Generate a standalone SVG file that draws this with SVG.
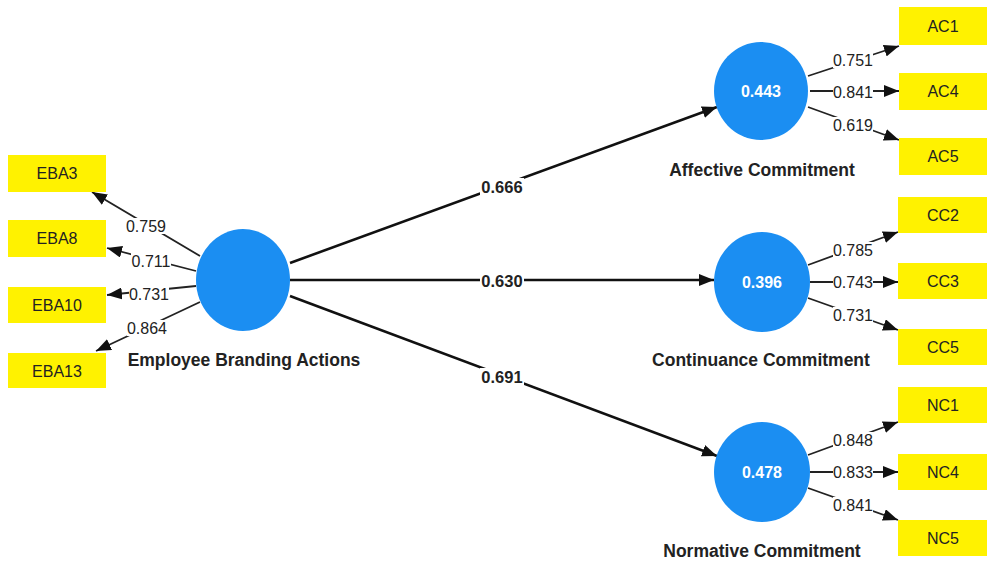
<svg xmlns="http://www.w3.org/2000/svg" width="989" height="562" viewBox="0 0 989 562">
<defs>
<marker id="ah" viewBox="0 0 15 12" refX="15" refY="6" markerWidth="15" markerHeight="12" markerUnits="userSpaceOnUse" orient="auto">
<path d="M0,0 L15,6 L0,12 Z" fill="#111"/>
</marker>
<style>
.box{fill:#FFF200;}
.bt{font-family:"Liberation Sans",Arial,sans-serif;font-size:16px;fill:#222;text-anchor:middle;}
.lv{fill:#1B8EF2;}
.lvt{font-family:"Liberation Sans",Arial,sans-serif;font-size:16px;font-weight:bold;fill:#fff;text-anchor:middle;}
.name{font-family:"Liberation Sans",Arial,sans-serif;font-size:17.5px;font-weight:bold;fill:#222;text-anchor:middle;}
.ld{stroke:#222;stroke-width:1.8;fill:none;marker-end:url(#ah);}
.st{stroke:#111;stroke-width:2.6;fill:none;marker-end:url(#ah);}
.lt{font-family:"Liberation Sans",Arial,sans-serif;font-size:16px;fill:#222;text-anchor:middle;}
.slt{font-family:"Liberation Sans",Arial,sans-serif;font-size:16.5px;font-weight:bold;fill:#222;text-anchor:middle;}
.bg{fill:#fff;}
</style>
</defs>
<rect width="989" height="562" fill="#fff"/>

<g id="connectors">
<line class="st" x1="290" y1="263" x2="717" y2="107"/>
<line class="st" x1="290" y1="280" x2="714" y2="280"/>
<line class="st" x1="290" y1="296" x2="717" y2="456"/>
<line class="ld" x1="200" y1="256" x2="92" y2="192"/>
<line class="ld" x1="196" y1="271" x2="107" y2="248"/>
<line class="ld" x1="196" y1="286" x2="107" y2="295"/>
<line class="ld" x1="200" y1="302" x2="96" y2="351"/>
<line class="ld" x1="808" y1="76" x2="899" y2="46"/>
<line class="ld" x1="810" y1="91" x2="899" y2="91"/>
<line class="ld" x1="808" y1="107" x2="899" y2="140"/>
<line class="ld" x1="808" y1="265" x2="898" y2="232"/>
<line class="ld" x1="810" y1="282" x2="898" y2="282"/>
<line class="ld" x1="808" y1="298" x2="898" y2="330"/>
<line class="ld" x1="808" y1="455" x2="898" y2="422"/>
<line class="ld" x1="810" y1="472" x2="898" y2="472"/>
<line class="ld" x1="808" y1="488" x2="898" y2="520"/>
<g id="connector-labels">
<rect class="bg" x="480" y="178" width="44" height="17"/><text class="slt" x="502" y="193">0.666</text>
<rect class="bg" x="480" y="272" width="44" height="17"/><text class="slt" x="502" y="287">0.630</text>
<rect class="bg" x="480" y="368" width="44" height="17"/><text class="slt" x="502" y="383">0.691</text>
<rect class="bg" x="126" y="218" width="40" height="16"/><text class="lt" x="146" y="232">0.759</text>
<rect class="bg" x="131" y="253" width="40" height="16"/><text class="lt" x="151" y="267">0.711</text>
<rect class="bg" x="129" y="286" width="40" height="16"/><text class="lt" x="149" y="300">0.731</text>
<rect class="bg" x="127" y="320" width="40" height="16"/><text class="lt" x="147" y="334">0.864</text>
<rect class="bg" x="833" y="52" width="40" height="16"/><text class="lt" x="853" y="66">0.751</text>
<rect class="bg" x="833" y="84" width="40" height="16"/><text class="lt" x="853" y="98">0.841</text>
<rect class="bg" x="833" y="117" width="40" height="16"/><text class="lt" x="853" y="131">0.619</text>
<rect class="bg" x="833" y="242" width="40" height="16"/><text class="lt" x="853" y="256">0.785</text>
<rect class="bg" x="833" y="274" width="40" height="16"/><text class="lt" x="853" y="288">0.743</text>
<rect class="bg" x="833" y="307" width="40" height="16"/><text class="lt" x="853" y="321">0.731</text>
<rect class="bg" x="833" y="432" width="40" height="16"/><text class="lt" x="853" y="446">0.848</text>
<rect class="bg" x="833" y="464" width="40" height="16"/><text class="lt" x="853" y="478">0.833</text>
<rect class="bg" x="833" y="497" width="40" height="16"/><text class="lt" x="853" y="511">0.841</text>
</g>
</g>

<g id="EBA">
<ellipse class="lv" cx="243" cy="280" rx="47" ry="51"/>
<text class="name" x="244" y="366">Employee Branding Actions</text>
</g>
<g id="AC">
<ellipse class="lv" cx="761" cy="91" rx="47" ry="49"/>
<text class="lvt" x="761" y="97">0.443</text>
<text class="name" x="762" y="176">Affective Commitment</text>
</g>
<g id="CC">
<ellipse class="lv" cx="762" cy="282" rx="48" ry="50"/>
<text class="lvt" x="762" y="288">0.396</text>
<text class="name" x="761" y="366">Continuance Commitment</text>
</g>
<g id="NC">
<ellipse class="lv" cx="762" cy="472" rx="48" ry="50"/>
<text class="lvt" x="762" y="478">0.478</text>
<text class="name" x="762" y="557">Normative Commitment</text>
</g>

<g id="EBA3"><rect class="box" x="8" y="155" width="98" height="37"/><text class="bt" x="57" y="179">EBA3</text></g>
<g id="EBA8"><rect class="box" x="8" y="220" width="98" height="37"/><text class="bt" x="57" y="244">EBA8</text></g>
<g id="EBA10"><rect class="box" x="8" y="287" width="98" height="36"/><text class="bt" x="57" y="311">EBA10</text></g>
<g id="EBA13"><rect class="box" x="8" y="353" width="98" height="35"/><text class="bt" x="57" y="377">EBA13</text></g>

<g id="AC1"><rect class="box" x="899" y="7" width="88" height="38"/><text class="bt" x="943" y="32">AC1</text></g>
<g id="AC4"><rect class="box" x="899" y="73" width="88" height="37"/><text class="bt" x="943" y="97">AC4</text></g>
<g id="AC5"><rect class="box" x="899" y="138" width="88" height="37"/><text class="bt" x="943" y="162">AC5</text></g>
<g id="CC2"><rect class="box" x="898" y="197" width="89" height="36"/><text class="bt" x="943" y="221">CC2</text></g>
<g id="CC3"><rect class="box" x="898" y="263" width="89" height="36"/><text class="bt" x="943" y="287">CC3</text></g>
<g id="CC5"><rect class="box" x="898" y="329" width="89" height="36"/><text class="bt" x="943" y="353">CC5</text></g>
<g id="NC1"><rect class="box" x="898" y="387" width="89" height="36"/><text class="bt" x="943" y="411">NC1</text></g>
<g id="NC4"><rect class="box" x="898" y="454" width="89" height="36"/><text class="bt" x="943" y="478">NC4</text></g>
<g id="NC5"><rect class="box" x="898" y="520" width="89" height="36"/><text class="bt" x="943" y="544">NC5</text></g>
</svg>
